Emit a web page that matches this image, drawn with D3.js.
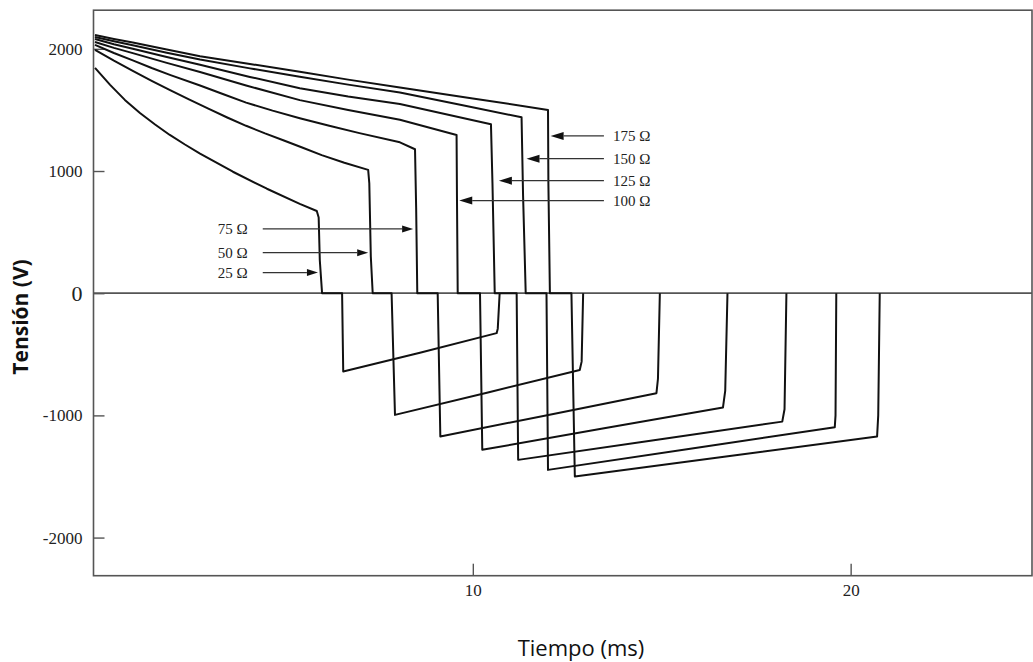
<!DOCTYPE html>
<html>
<head>
<meta charset="utf-8">
<script src="https://cdn.jsdelivr.net/npm/d3@7"></script>
<style>
  body { margin: 0; background: #fff; }
  svg { display: block; }
</style>
</head>
<body>
<svg id="chart" width="1033" height="662"></svg>
<script>
// Capacitor discharge voltage (V) against time (ms) for several load resistances.
// Each series: [time ms, voltage V]
const r25  = [[0,1844],[0.4,1705],[0.79,1582],[1.19,1475],[1.59,1381],[1.98,1295],[2.38,1217],[2.78,1143],[3.65,994],[4.55,855],[5.42,731],[5.87,673],[5.92,620],[5.95,270],[6.01,0],[6.54,0],[6.57,-641],[8.6,-488],[10.63,-327],[10.66,-290],[10.71,0]];
const r50  = [[0,1991],[0.5,1903],[1.0,1820],[1.5,1738],[2.0,1660],[2.5,1584],[3.0,1510],[3.5,1438],[4.0,1370],[4.5,1308],[5.0,1250],[5.5,1190],[6.0,1130],[6.6,1068],[7.23,1009],[7.26,900],[7.3,300],[7.35,0],[7.85,0],[7.94,-996],[10.4,-812],[12.83,-628],[12.88,-560],[12.92,0]];
const r75  = [[0,2032],[0.5,1966],[1.0,1905],[1.5,1843],[2.0,1785],[2.78,1700],[3.4,1628],[4.0,1560],[4.7,1494],[5.42,1432],[6.2,1370],[7.0,1310],[8.07,1235],[8.47,1178],[8.5,700],[8.53,0],[9.07,0],[9.14,-1173],[12.0,-996],[14.86,-818],[14.9,-700],[14.95,0]];
const r100 = [[0,2056],[0.5,2008],[1.0,1965],[1.9,1885],[2.78,1810],[4.0,1700],[5.42,1580],[6.7,1500],[8.07,1420],[9.57,1295],[9.58,800],[9.6,0],[10.19,0],[10.25,-1282],[13.4,-1109],[16.62,-936],[16.68,-800],[16.74,0]];
const r125 = [[0,2080],[0.5,2038],[1.0,2000],[1.9,1933],[2.78,1870],[4.1,1770],[5.42,1678],[6.7,1610],[8.07,1549],[10.48,1383],[10.52,900],[10.58,0],[11.16,0],[11.2,-1364],[14.7,-1207],[18.19,-1051],[18.25,-950],[18.3,0]];
const r150 = [[0,2097],[0.5,2062],[1.0,2030],[1.9,1968],[2.78,1912],[4.1,1840],[5.42,1772],[6.7,1707],[8.07,1643],[9.7,1540],[11.29,1440],[11.33,800],[11.4,0],[11.95,0],[11.99,-1446],[15.8,-1271],[19.58,-1097],[19.6,-1000],[19.62,0]];
const r175 = [[0,2113],[0.5,2081],[1.0,2052],[1.9,1994],[2.78,1940],[4.1,1876],[5.42,1813],[6.7,1748],[8.07,1684],[10.0,1594],[11.99,1500],[12.0,900],[12.04,0],[12.61,0],[12.7,-1500],[16.7,-1336],[20.7,-1173],[20.73,-1000],[20.77,0]];

const seriesData = [r25, r50, r75, r100, r125, r150, r175];
const seriesLabels = ["25 Ω", "50 Ω", "75 Ω", "100 Ω", "125 Ω", "150 Ω", "175 Ω"];

// Annotation arrows: level (V), arrow tip time, arrow tail time, label side
const arrowV     = [169, 332, 526, 758, 921, 1101, 1287];
const arrowTipT  = [5.9, 7.23, 8.42, 9.64, 10.69, 11.42, 12.06];
const arrowTailT = [4.44, 4.44, 4.44, 13.47, 13.47, 13.47, 13.47];
const labelSide  = ["left", "left", "left", "right", "right", "right", "right"];

const yTicks = [2000, 1000, 0, -1000, -2000];
const xTicks = [10, 20];

const svg = d3.select("#chart");
const plot = { left: 94, right: 1032, top: 10.7, bottom: 575.7 };
const serif = "'Liberation Serif', 'Times New Roman', serif";
const sans = "'Open Sans', 'Noto Sans', sans-serif";

const x = d3.scaleLinear().domain([0, 24.8]).range([95, plot.right]);
const y = d3.scaleLinear().domain([-2312, 2312]).range([plot.bottom, plot.top]);

// frame
svg.append("rect")
  .attr("x", plot.left - 0.5).attr("y", plot.top - 0.5)
  .attr("width", plot.right - plot.left + 0.5)
  .attr("height", plot.bottom - plot.top + 0.5)
  .attr("fill", "none").attr("stroke", "#555").attr("stroke-width", 1.6);

// zero line
svg.append("line")
  .attr("x1", plot.left).attr("x2", plot.right)
  .attr("y1", y(0)).attr("y2", y(0))
  .attr("stroke", "#555").attr("stroke-width", 1.8);

// y axis (ticks point into the plot, plain hyphen for negatives)
const yAxis = svg.append("g")
  .attr("transform", `translate(${plot.left - 0.5},0)`)
  .call(d3.axisLeft(y).tickValues(yTicks).tickSizeInner(-11).tickSizeOuter(0).tickPadding(11).tickFormat(d => String(d)));
yAxis.select(".domain").remove();
yAxis.selectAll(".tick line").attr("stroke", "#555").attr("stroke-width", 1.4);
yAxis.selectAll(".tick text")
  .attr("fill", "#222")
  .style("font-family", serif)
  .style("font-size", d => d === 0 ? "22px" : "17px")
  .attr("dy", d => d === 0 ? "0.34em" : "0.32em");

// x axis
const xAxis = svg.append("g")
  .attr("transform", `translate(0,${plot.bottom})`)
  .call(d3.axisBottom(x).tickValues(xTicks).tickSizeInner(-12).tickSizeOuter(0).tickPadding(8));
xAxis.select(".domain").remove();
xAxis.selectAll(".tick line").attr("stroke", "#555").attr("stroke-width", 1.4);
xAxis.selectAll(".tick text")
  .attr("fill", "#222")
  .style("font-family", serif)
  .style("font-size", "17px");

// series lines
const line = d3.line().x(d => x(d[0])).y(d => y(d[1]));
svg.append("g").selectAll("path")
  .data(seriesData)
  .join("path")
  .attr("d", line)
  .attr("fill", "none")
  .attr("stroke", "#111")
  .attr("stroke-width", 2)
  .attr("stroke-linejoin", "round");

// annotation arrows and labels
const ann = svg.append("g");
seriesLabels.forEach((lab, i) => {
  const yy = y(arrowV[i]);
  const tip = x(arrowTipT[i]);
  const tail = x(arrowTailT[i]);
  const dir = tail < tip ? 1 : -1;   // +1: arrow points right
  const headLen = dir > 0 ? 11 : 13, headHalf = dir > 0 ? 3.5 : 4;
  ann.append("line")
    .attr("x1", tail).attr("x2", tip - dir * headLen)
    .attr("y1", yy).attr("y2", yy)
    .attr("stroke", "#333").attr("stroke-width", 1.2);
  ann.append("path")
    .attr("d", `M${tip},${yy} L${tip - dir * headLen},${yy - headHalf} L${tip - dir * headLen},${yy + headHalf} Z`)
    .attr("fill", "#111");
  ann.append("text")
    .attr("x", labelSide[i] === "left" ? tail - 15 : tail + 9)
    .attr("y", yy)
    .attr("dy", "0.35em")
    .attr("text-anchor", labelSide[i] === "left" ? "end" : "start")
    .attr("fill", "#222")
    .style("font-family", serif)
    .style("font-size", "15px")
    .text(lab);
});

// axis titles
svg.append("text")
  .attr("transform", "translate(28,317) rotate(-90)")
  .attr("text-anchor", "middle")
  .attr("fill", "#111")
  .style("font-family", sans)
  .style("font-weight", "700")
  .style("font-size", "21px")
  .text("Tensión (V)");

svg.append("text")
  .attr("x", 581).attr("y", 656)
  .attr("text-anchor", "middle")
  .attr("fill", "#111")
  .style("font-family", sans)
  .style("font-size", "22px")
  .text("Tiempo (ms)");
</script>
</body>
</html>
